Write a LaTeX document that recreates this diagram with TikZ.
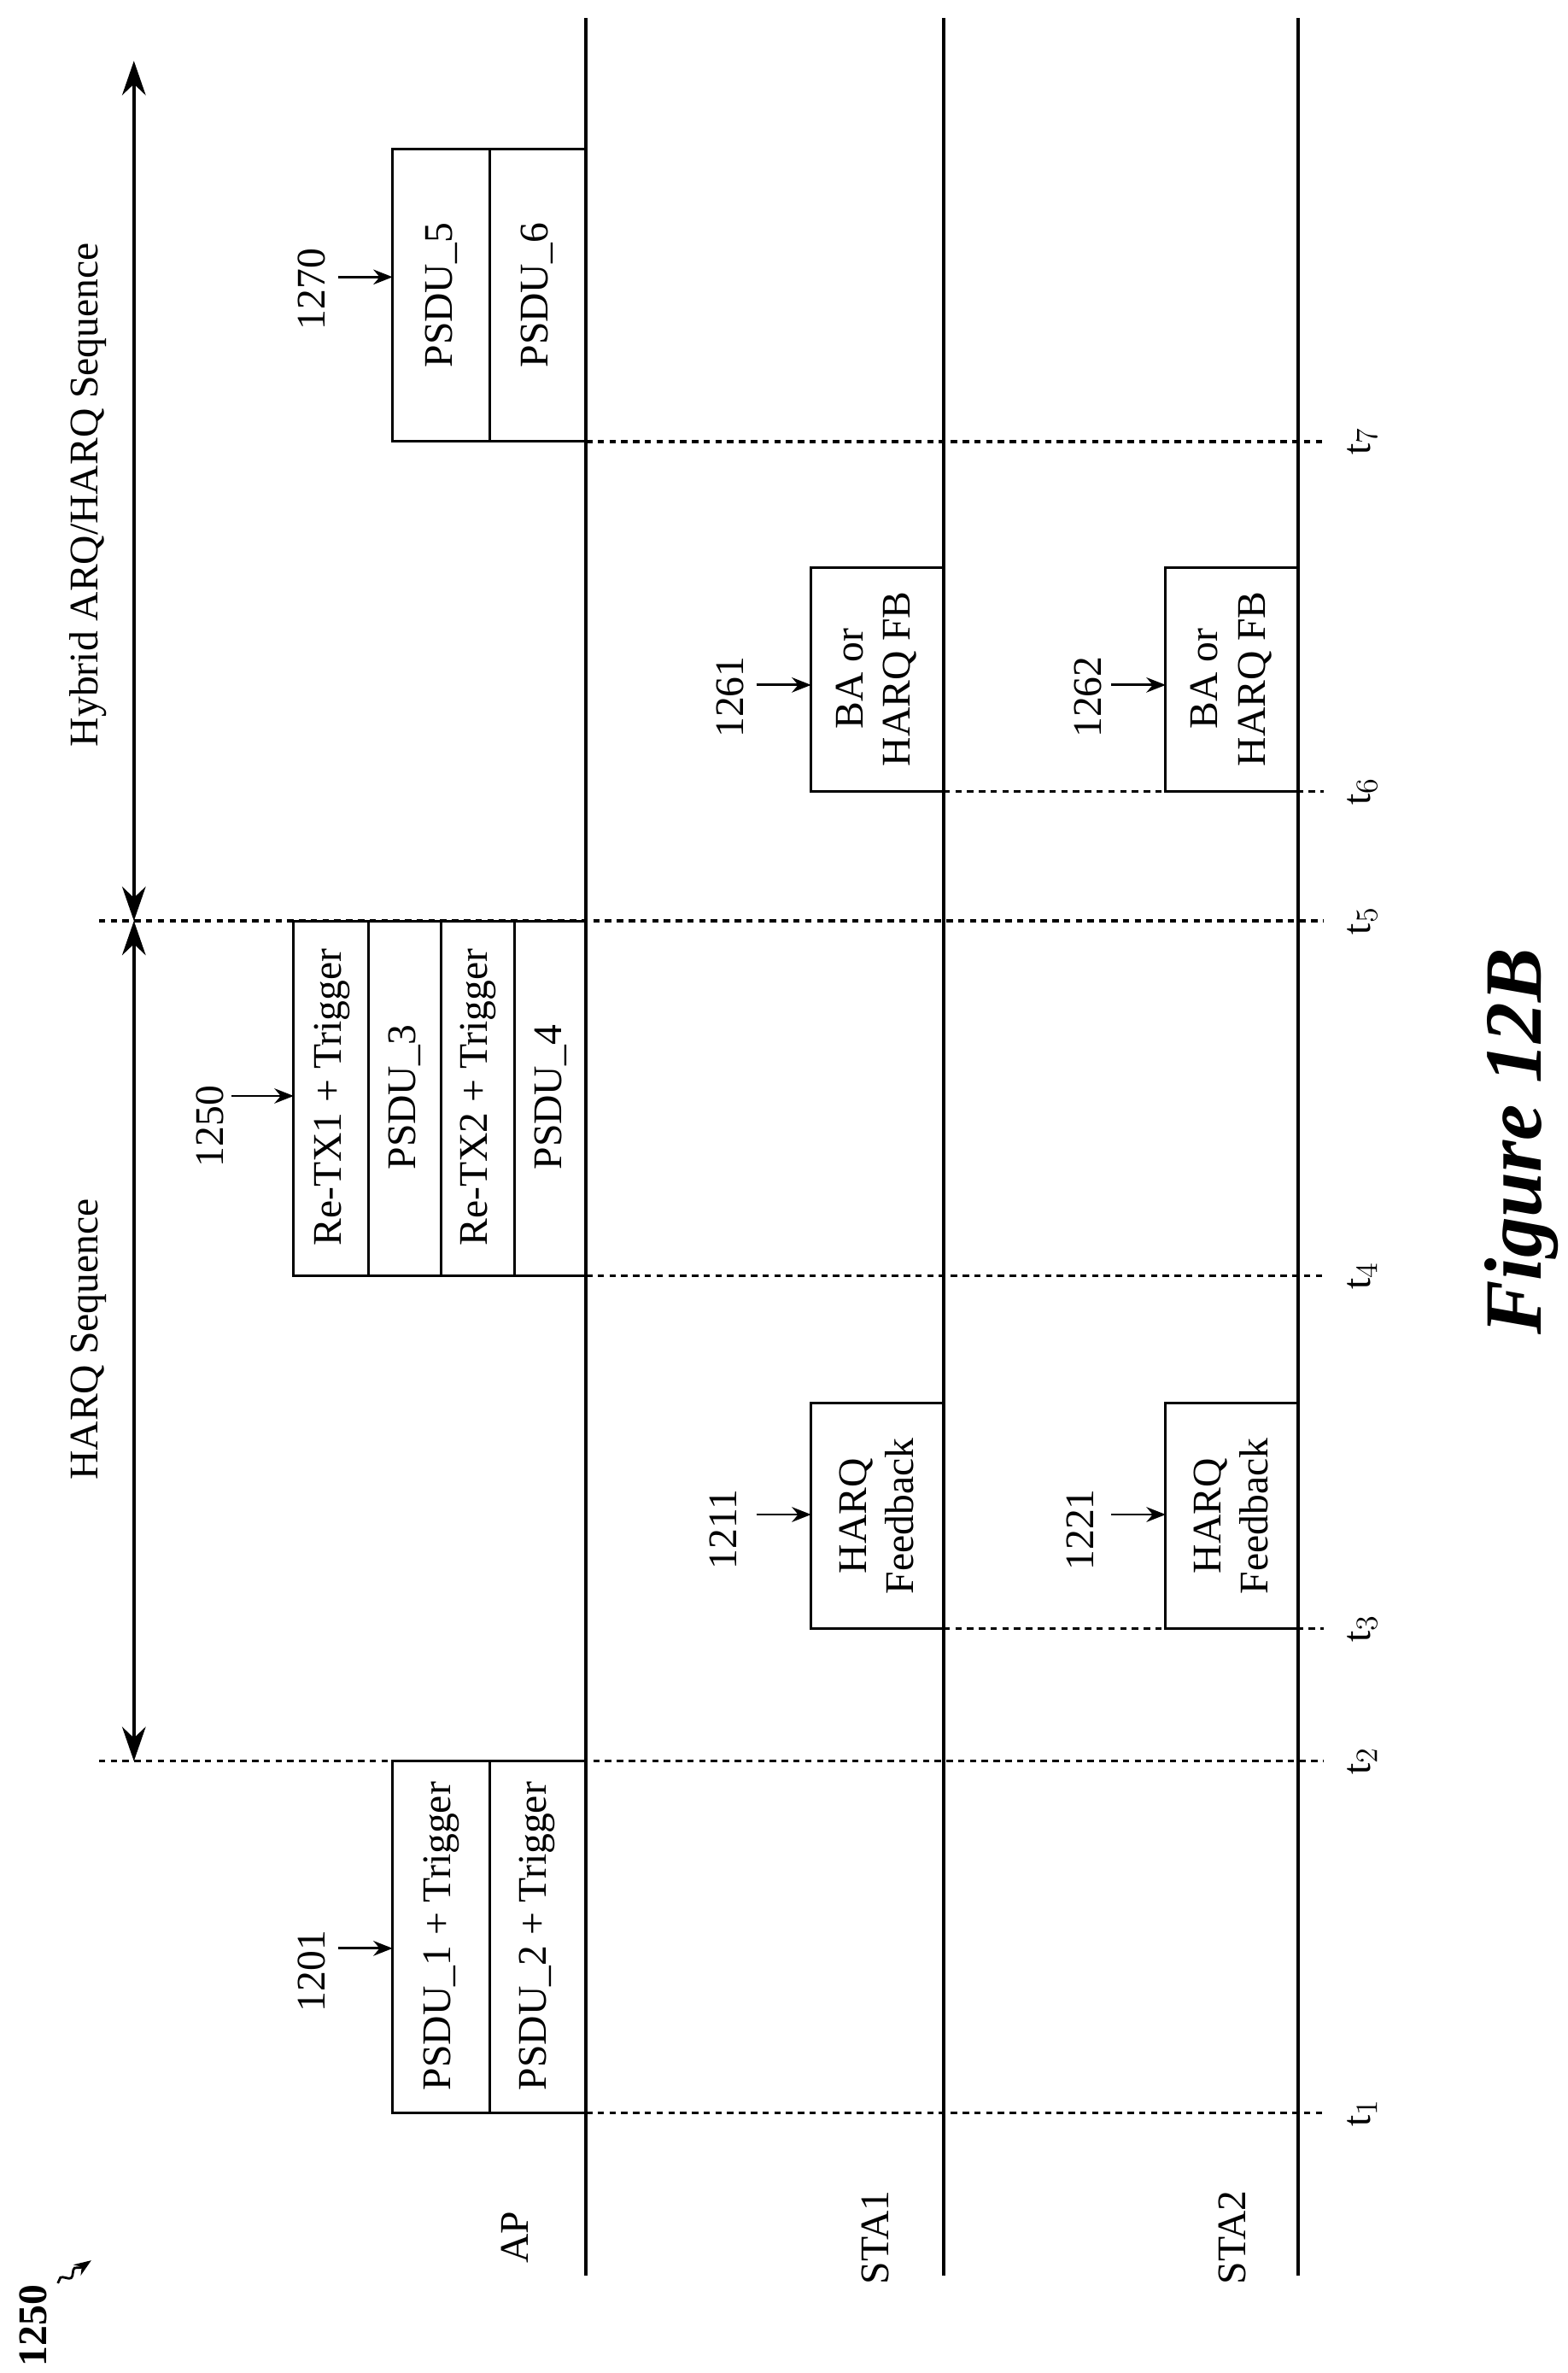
\documentclass[tikz,border=0pt]{standalone}
\usepackage{fontspec}
\setmainfont{Liberation Serif}
\usetikzlibrary{arrows.meta,decorations.pathmorphing}
\tikzset{
  lbl/.style={rotate=90,font=\fontsize{19}{22}\selectfont,align=center},
  cell/.style={draw,line width=1.2pt},
  tmark/.style={dash pattern=on 3pt off 2.5pt,line width=1.4pt},
  tip/.style={-{Stealth[length=9pt,width=7pt]},line width=1.1pt},
}
\begin{document}
\begin{tikzpicture}[x=0.025cm,y=-0.025cm]
\useasboundingbox (0,0) rectangle (1030,1559);
% time lines
\foreach \n/\x in {ap/385,sa/620,sb/853}{
  \coordinate (\n top) at (\x,12);
  \coordinate (\n bot) at (\x,1495);
  \draw[line width=1.6pt] (\n top) -- (\n bot);
}
\node[lbl] (ap) at (338,1470) {AP};
\node[lbl] (sta1) at (575,1470) {STA1};
\node[lbl] (sta2) at (810,1470) {STA2};
% dashed time marks
\foreach \i/\y/\x in {1/1388/385,2/1157/65,3/1070/620,4/838/385,5/605/65,6/520/620,7/290/385}{
  \coordinate (d\i) at (\x,\y);
  \coordinate (e\i) at (870,\y);
  \draw[tmark] (d\i) -- (e\i);
  \node[lbl] (t\i) at (895,\y) {t$_{\i}$};
}
% frames
\draw[cell] (258,1157) rectangle (385,1388); \draw[cell] (322,1157) -- (322,1388);
\node[lbl] (p1) at (290,1272) {PSDU\_1 + Trigger};
\node[lbl] (p2) at (353,1272) {PSDU\_2 + Trigger};
\draw[cell] (533,922) rectangle (620,1070);
\node[lbl] (f1) at (576,996) {HARQ\\Feedback};
\draw[cell] (766,922) rectangle (853,1070);
\node[lbl] (f2) at (809,996) {HARQ\\Feedback};
\draw[cell] (193,605) rectangle (385,838);
\foreach \x in {242,290,338}{\draw[cell] (\x,605) -- (\x,838);}
\node[lbl] (r1) at (218,721) {Re-TX1 + Trigger};
\node[lbl] (p3) at (266,721) {PSDU\_3};
\node[lbl] (r2) at (314,721) {Re-TX2 + Trigger};
\node[lbl] (p4) at (362,721) {PSDU\_4};
\draw[cell] (533,373) rectangle (620,520);
\node[lbl] (b1) at (576,446) {BA or\\HARQ FB};
\draw[cell] (766,373) rectangle (853,520);
\node[lbl] (b2) at (809,446) {BA or\\HARQ FB};
\draw[cell] (258,98) rectangle (385,290); \draw[cell] (322,98) -- (322,290);
\node[lbl] (p5) at (290,194) {PSDU\_5};
\node[lbl] (p6) at (353,194) {PSDU\_6};
% reference numerals
\foreach \n/\x/\y/\l in {n1201/205/1295/1201,n1211/475/1005/1211,n1221/710/1005/1221,
    n1250/138/740/1250,n1261/480/458/1261,n1262/715/458/1262,n1270/205/190/1270}{
  \node[lbl] (\n) at (\x,\y) {\l};
}
\foreach \x/\y/\w in {222/1280/258,497/995/533,730/995/766,152/720/193,497/450/533,730/450/766,222/182/258}{
  \coordinate (a) at (\x,\y); \coordinate (b) at (\w,\y);
  \draw[tip] (a) -- (b);
}
% sequences
\coordinate (s1) at (88,1157); \coordinate (s2) at (88,605); \coordinate (s3) at (88,40);
\draw[{Stealth[length=16pt,width=11pt]}-{Stealth[length=16pt,width=11pt]},line width=1.6pt] (s1) -- (s2);
\draw[{Stealth[length=16pt,width=11pt]}-{Stealth[length=16pt,width=11pt]},line width=1.6pt] (s2) -- (s3);
\node[lbl] (hs) at (58,880) {HARQ Sequence};
\node[lbl] (hh) at (58,325) {Hybrid ARQ/HARQ Sequence};
% figure title
\node[rotate=90,font=\fontsize{38}{40}\selectfont\bfseries\itshape] (fig) at (1000,750) {Figure 12B};
\node[rotate=90,font=\fontsize{19}{22}\selectfont\bfseries] (num) at (22,1528) {1250};
\coordinate (q1) at (38,1500); \coordinate (q2) at (60,1485);
\draw[line width=1.1pt,-{Stealth[length=8pt]},decorate,decoration={snake,amplitude=1.5pt,segment length=8pt,post length=4pt}] (q1) -- (q2);
\end{tikzpicture}
\end{document}
